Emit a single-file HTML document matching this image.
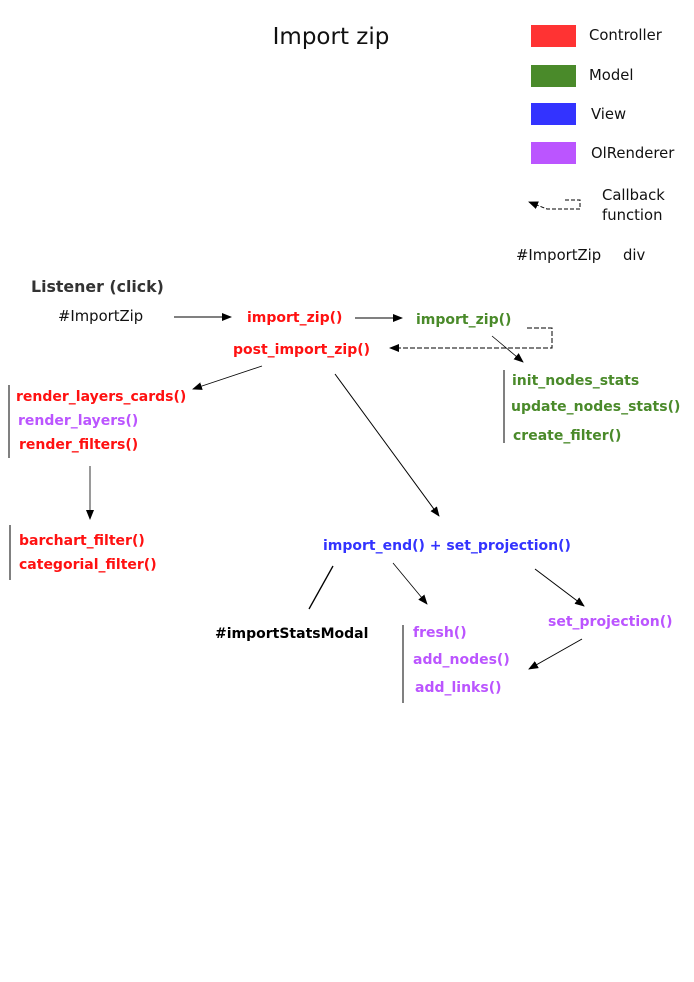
<!DOCTYPE html>
<html><head><style>
html,body{margin:0;padding:0;background:#fff;}
svg{display:block;}
text{font-family:"DejaVu Sans","Liberation Sans",sans-serif;}
.b{font-weight:bold;font-size:14px;}
.n{font-size:14.8px;fill:#111;}
</style></head><body>
<svg width="694" height="982" viewBox="0 0 694 982" xmlns="http://www.w3.org/2000/svg">
<defs>
<marker id="a" markerWidth="10" markerHeight="8" refX="9" refY="4" orient="auto" markerUnits="userSpaceOnUse">
<path d="M0,0 L10,4 L0,8 Z" fill="#000"/></marker>
</defs>
<text x="331" y="44" font-size="23" text-anchor="middle" fill="#111">Import zip</text>
<rect x="531" y="25" width="45" height="22" fill="#ff3333"/>
<rect x="531" y="65" width="45" height="22" fill="#4a8a2a"/>
<rect x="531" y="103" width="45" height="22" fill="#3333ff"/>
<rect x="531" y="142" width="45" height="22" fill="#bb55ff"/>
<text class="n" x="589" y="40">Controller</text>
<text class="n" x="589" y="80">Model</text>
<text class="n" x="591" y="119">View</text>
<text class="n" x="591" y="158">OlRenderer</text>
<path d="M565,200 L580,200 L580,209 L547,209 L529,202" fill="none" stroke="#000" stroke-dasharray="4,2" marker-end="url(#a)"/>
<text class="n" x="602" y="200">Callback</text>
<text class="n" x="602" y="220">function</text>
<text class="n" x="516" y="260">#ImportZip</text>
<text class="n" x="623" y="260">div</text>
<text x="31" y="292" font-size="15.8" font-weight="bold" fill="#333">Listener (click)</text>
<text class="n" x="58" y="321">#ImportZip</text>
<line x1="174" y1="317" x2="231" y2="317" stroke="#000" marker-end="url(#a)"/>
<text class="b" x="247" y="322" fill="#ff1111">import_zip()</text>
<line x1="355" y1="318" x2="402" y2="318" stroke="#000" marker-end="url(#a)"/>
<text class="b" x="416" y="324" fill="#4a8a2a">import_zip()</text>
<path d="M527,328 L552,328 L552,348 L390,348" fill="none" stroke="#000" stroke-dasharray="5,2" marker-end="url(#a)"/>
<line x1="492" y1="336" x2="523" y2="362" stroke="#000" stroke-width="0.8" marker-end="url(#a)"/>
<text class="b" x="233" y="354" fill="#ff1111">post_import_zip()</text>
<line x1="262" y1="366" x2="193" y2="389" stroke="#000" stroke-width="0.8" marker-end="url(#a)"/>
<line x1="9" y1="385" x2="9" y2="458" stroke="#000"/>
<text class="b" x="16" y="401" fill="#ff1111">render_layers_cards()</text>
<text class="b" x="18" y="425" fill="#bb55ff">render_layers()</text>
<text class="b" x="19" y="449" fill="#ff1111">render_filters()</text>
<line x1="90" y1="466" x2="90" y2="519" stroke="#000" stroke-width="0.8" marker-end="url(#a)"/>
<line x1="10" y1="525" x2="10" y2="580" stroke="#000"/>
<text class="b" x="19" y="545" fill="#ff1111">barchart_filter()</text>
<text class="b" x="19" y="569" fill="#ff1111">categorial_filter()</text>
<line x1="504" y1="370" x2="504" y2="443" stroke="#000"/>
<text class="b" x="512" y="385" fill="#4a8a2a">init_nodes_stats</text>
<text class="b" x="511" y="411" fill="#4a8a2a">update_nodes_stats()</text>
<text class="b" x="513" y="440" fill="#4a8a2a">create_filter()</text>
<line x1="335" y1="374" x2="439" y2="516" stroke="#000" marker-end="url(#a)"/>
<text class="b" x="323" y="550" fill="#3333ff">import_end() + set_projection()</text>
<line x1="333" y1="566" x2="309" y2="609" stroke="#000" stroke-width="1.3"/>
<text class="b" x="215" y="638" fill="#000">#importStatsModal</text>
<line x1="393" y1="563" x2="427" y2="604" stroke="#000" stroke-width="0.8" marker-end="url(#a)"/>
<line x1="535" y1="569" x2="584" y2="606" stroke="#000" marker-end="url(#a)"/>
<text class="b" x="548" y="626" fill="#bb55ff">set_projection()</text>
<line x1="582" y1="639" x2="529" y2="669" stroke="#000" marker-end="url(#a)"/>
<line x1="403" y1="625" x2="403" y2="703" stroke="#000"/>
<text class="b" x="413" y="637" fill="#bb55ff">fresh()</text>
<text class="b" x="413" y="664" fill="#bb55ff">add_nodes()</text>
<text class="b" x="415" y="692" fill="#bb55ff">add_links()</text>
</svg>
</body></html>
